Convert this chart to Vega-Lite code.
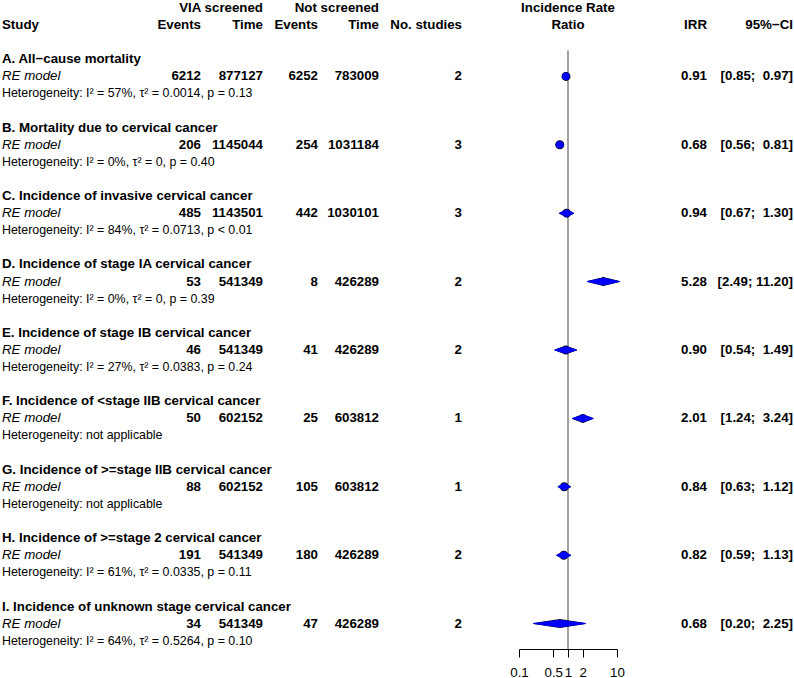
{
  "$schema": "https://vega.github.io/schema/vega-lite/v6.json",
  "background": "white",
  "padding": {"left": 2, "right": 0, "top": 0, "bottom": 0},
  "datasets": {
    "headers": [
      {"col": "study", "line": -2, "text": "Study"},
      {"col": "ev1", "line": -2, "text": "Events"},
      {"col": "t1", "line": -3, "text": "VIA screened"},
      {"col": "t1", "line": -2, "text": "Time"},
      {"col": "ev2", "line": -2, "text": "Events"},
      {"col": "t2", "line": -3, "text": "Not screened"},
      {"col": "t2", "line": -2, "text": "Time"},
      {"col": "k", "line": -2, "text": "No. studies"},
      {"col": "plot", "line": -3, "text": "Incidence Rate"},
      {"col": "plot", "line": -2, "text": "Ratio"},
      {"col": "irr", "line": -2, "text": "IRR"},
      {"col": "ci", "line": -2, "text": "95%−CI"}
    ],
    "lines": [
      {"sec": "A", "kind": "title", "line": 0, "text": "A. All−cause mortality"},
      {"sec": "A", "kind": "model", "line": 1, "text": "RE model", "ev1": 6212, "t1": 877127, "ev2": 6252, "t2": 783009, "k": 2, "irr": 0.91, "lo": 0.85, "hi": 0.97, "ci": "[0.85;\u00a0 0.97]"},
      {"sec": "A", "kind": "het", "line": 2, "text": "Heterogeneity: I² = 57%, τ² = 0.0014, p = 0.13"},
      {"sec": "B", "kind": "title", "line": 4, "text": "B. Mortality due to cervical cancer"},
      {"sec": "B", "kind": "model", "line": 5, "text": "RE model", "ev1": 206, "t1": 1145044, "ev2": 254, "t2": 1031184, "k": 3, "irr": 0.68, "lo": 0.56, "hi": 0.81, "ci": "[0.56;\u00a0 0.81]"},
      {"sec": "B", "kind": "het", "line": 6, "text": "Heterogeneity: I² = 0%, τ² = 0, p = 0.40"},
      {"sec": "C", "kind": "title", "line": 8, "text": "C. Incidence of invasive cervical cancer"},
      {"sec": "C", "kind": "model", "line": 9, "text": "RE model", "ev1": 485, "t1": 1143501, "ev2": 442, "t2": 1030101, "k": 3, "irr": 0.94, "lo": 0.67, "hi": 1.30, "ci": "[0.67;\u00a0 1.30]"},
      {"sec": "C", "kind": "het", "line": 10, "text": "Heterogeneity: I² = 84%, τ² = 0.0713, p < 0.01"},
      {"sec": "D", "kind": "title", "line": 12, "text": "D. Incidence of stage IA cervical cancer"},
      {"sec": "D", "kind": "model", "line": 13, "text": "RE model", "ev1": 53, "t1": 541349, "ev2": 8, "t2": 426289, "k": 2, "irr": 5.28, "lo": 2.49, "hi": 11.20, "ci": "[2.49; 11.20]"},
      {"sec": "D", "kind": "het", "line": 14, "text": "Heterogeneity: I² = 0%, τ² = 0, p = 0.39"},
      {"sec": "E", "kind": "title", "line": 16, "text": "E. Incidence of stage IB cervical cancer"},
      {"sec": "E", "kind": "model", "line": 17, "text": "RE model", "ev1": 46, "t1": 541349, "ev2": 41, "t2": 426289, "k": 2, "irr": 0.90, "lo": 0.54, "hi": 1.49, "ci": "[0.54;\u00a0 1.49]"},
      {"sec": "E", "kind": "het", "line": 18, "text": "Heterogeneity: I² = 27%, τ² = 0.0383, p = 0.24"},
      {"sec": "F", "kind": "title", "line": 20, "text": "F. Incidence of <stage IIB cervical cancer"},
      {"sec": "F", "kind": "model", "line": 21, "text": "RE model", "ev1": 50, "t1": 602152, "ev2": 25, "t2": 603812, "k": 1, "irr": 2.01, "lo": 1.24, "hi": 3.24, "ci": "[1.24;\u00a0 3.24]"},
      {"sec": "F", "kind": "het", "line": 22, "text": "Heterogeneity: not applicable"},
      {"sec": "G", "kind": "title", "line": 24, "text": "G. Incidence of >=stage IIB cervical cancer"},
      {"sec": "G", "kind": "model", "line": 25, "text": "RE model", "ev1": 88, "t1": 602152, "ev2": 105, "t2": 603812, "k": 1, "irr": 0.84, "lo": 0.63, "hi": 1.12, "ci": "[0.63;\u00a0 1.12]"},
      {"sec": "G", "kind": "het", "line": 26, "text": "Heterogeneity: not applicable"},
      {"sec": "H", "kind": "title", "line": 28, "text": "H. Incidence of >=stage 2 cervical cancer"},
      {"sec": "H", "kind": "model", "line": 29, "text": "RE model", "ev1": 191, "t1": 541349, "ev2": 180, "t2": 426289, "k": 2, "irr": 0.82, "lo": 0.59, "hi": 1.13, "ci": "[0.59;\u00a0 1.13]"},
      {"sec": "H", "kind": "het", "line": 30, "text": "Heterogeneity: I² = 61%, τ² = 0.0335, p = 0.11"},
      {"sec": "I", "kind": "title", "line": 32, "text": "I. Incidence of unknown stage cervical cancer"},
      {"sec": "I", "kind": "model", "line": 33, "text": "RE model", "ev1": 34, "t1": 541349, "ev2": 47, "t2": 426289, "k": 2, "irr": 0.68, "lo": 0.20, "hi": 2.25, "ci": "[0.20;\u00a0 2.25]"},
      {"sec": "I", "kind": "het", "line": 34, "text": "Heterogeneity: I² = 64%, τ² = 0.5264, p = 0.10"}
    ]
  },
  "spacing": 0,
  "bounds": "flush",
  "hconcat": [
    {
      "width": 199, "height": 647,
      "layer": [
        {"data": {"name": "headers"}, "transform": [{"filter": "datum.col == 'study'"}],
         "mark": {"type": "text", "align": "left", "fontWeight": "bold", "clip": false},
         "encoding": {"x": {"datum": 0, "type": "quantitative", "scale": {"domain": [0, 1]}, "axis": null},
                      "y": {"field": "line", "type": "quantitative", "scale": {"domain": [-3.35, 34.485], "reverse": true, "zero": false, "nice": false}, "axis": null},
                      "text": {"field": "text"}}},
        {"data": {"name": "lines"}, "transform": [{"filter": "datum.kind == 'title'"}],
         "mark": {"type": "text", "align": "left", "fontWeight": "bold", "clip": false},
         "encoding": {"x": {"datum": 0, "type": "quantitative", "scale": {"domain": [0, 1]}, "axis": null},
                      "y": {"field": "line", "type": "quantitative", "scale": {"domain": [-3.35, 34.485], "reverse": true, "zero": false, "nice": false}, "axis": null},
                      "text": {"field": "text"}}},
        {"data": {"name": "lines"}, "transform": [{"filter": "datum.kind == 'model'"}],
         "mark": {"type": "text", "align": "left", "fontStyle": "italic", "clip": false},
         "encoding": {"x": {"datum": 0, "type": "quantitative", "scale": {"domain": [0, 1]}, "axis": null},
                      "y": {"field": "line", "type": "quantitative", "scale": {"domain": [-3.35, 34.485], "reverse": true, "zero": false, "nice": false}, "axis": null},
                      "text": {"field": "text"}}},
        {"data": {"name": "lines"}, "transform": [{"filter": "datum.kind == 'het'"}],
         "mark": {"type": "text", "align": "left", "fontSize": 12.4, "clip": false},
         "encoding": {"x": {"datum": 0, "type": "quantitative", "scale": {"domain": [0, 1]}, "axis": null},
                      "y": {"field": "line", "type": "quantitative", "scale": {"domain": [-3.35, 34.485], "reverse": true, "zero": false, "nice": false}, "axis": null},
                      "text": {"field": "text"}}},
        {"data": {"name": "headers"}, "transform": [{"filter": "datum.col == 'ev1'"}],
         "mark": {"type": "text", "align": "right", "fontWeight": "bold", "clip": false},
         "encoding": {"x": {"datum": 1, "type": "quantitative", "scale": {"domain": [0, 1]}, "axis": null},
                      "y": {"field": "line", "type": "quantitative", "scale": {"domain": [-3.35, 34.485], "reverse": true, "zero": false, "nice": false}, "axis": null},
                      "text": {"field": "text"}}},
        {"data": {"name": "lines"}, "transform": [{"filter": "datum.kind == 'model'"}],
         "mark": {"type": "text", "align": "right", "fontWeight": "bold", "clip": false},
         "encoding": {"x": {"datum": 1, "type": "quantitative", "scale": {"domain": [0, 1]}, "axis": null},
                      "y": {"field": "line", "type": "quantitative", "scale": {"domain": [-3.35, 34.485], "reverse": true, "zero": false, "nice": false}, "axis": null},
                      "text": {"field": "ev1", "type": "quantitative", "format": "d"}}}
      ]
    },
    {
      "width": 62, "height": 647,
      "layer": [
        {"data": {"name": "headers"}, "transform": [{"filter": "datum.col == 't1'"}],
         "mark": {"type": "text", "align": "right", "fontWeight": "bold", "clip": false},
         "encoding": {"x": {"datum": 1, "type": "quantitative", "scale": {"domain": [0, 1]}, "axis": null},
                      "y": {"field": "line", "type": "quantitative", "scale": {"domain": [-3.35, 34.485], "reverse": true, "zero": false, "nice": false}, "axis": null},
                      "text": {"field": "text"}}},
        {"data": {"name": "lines"}, "transform": [{"filter": "datum.kind == 'model'"}],
         "mark": {"type": "text", "align": "right", "fontWeight": "bold", "clip": false},
         "encoding": {"x": {"datum": 1, "type": "quantitative", "scale": {"domain": [0, 1]}, "axis": null},
                      "y": {"field": "line", "type": "quantitative", "scale": {"domain": [-3.35, 34.485], "reverse": true, "zero": false, "nice": false}, "axis": null},
                      "text": {"field": "t1", "type": "quantitative", "format": "d"}}}
      ]
    },
    {
      "width": 55, "height": 647,
      "layer": [
        {"data": {"name": "headers"}, "transform": [{"filter": "datum.col == 'ev2'"}],
         "mark": {"type": "text", "align": "right", "fontWeight": "bold", "clip": false},
         "encoding": {"x": {"datum": 1, "type": "quantitative", "scale": {"domain": [0, 1]}, "axis": null},
                      "y": {"field": "line", "type": "quantitative", "scale": {"domain": [-3.35, 34.485], "reverse": true, "zero": false, "nice": false}, "axis": null},
                      "text": {"field": "text"}}},
        {"data": {"name": "lines"}, "transform": [{"filter": "datum.kind == 'model'"}],
         "mark": {"type": "text", "align": "right", "fontWeight": "bold", "clip": false},
         "encoding": {"x": {"datum": 1, "type": "quantitative", "scale": {"domain": [0, 1]}, "axis": null},
                      "y": {"field": "line", "type": "quantitative", "scale": {"domain": [-3.35, 34.485], "reverse": true, "zero": false, "nice": false}, "axis": null},
                      "text": {"field": "ev2", "type": "quantitative", "format": "d"}}}
      ]
    },
    {
      "width": 61, "height": 647,
      "layer": [
        {"data": {"name": "headers"}, "transform": [{"filter": "datum.col == 't2'"}],
         "mark": {"type": "text", "align": "right", "fontWeight": "bold", "clip": false},
         "encoding": {"x": {"datum": 1, "type": "quantitative", "scale": {"domain": [0, 1]}, "axis": null},
                      "y": {"field": "line", "type": "quantitative", "scale": {"domain": [-3.35, 34.485], "reverse": true, "zero": false, "nice": false}, "axis": null},
                      "text": {"field": "text"}}},
        {"data": {"name": "lines"}, "transform": [{"filter": "datum.kind == 'model'"}],
         "mark": {"type": "text", "align": "right", "fontWeight": "bold", "clip": false},
         "encoding": {"x": {"datum": 1, "type": "quantitative", "scale": {"domain": [0, 1]}, "axis": null},
                      "y": {"field": "line", "type": "quantitative", "scale": {"domain": [-3.35, 34.485], "reverse": true, "zero": false, "nice": false}, "axis": null},
                      "text": {"field": "t2", "type": "quantitative", "format": "d"}}}
      ]
    },
    {
      "width": 83, "height": 647,
      "layer": [
        {"data": {"name": "headers"}, "transform": [{"filter": "datum.col == 'k'"}],
         "mark": {"type": "text", "align": "right", "fontWeight": "bold", "clip": false},
         "encoding": {"x": {"datum": 1, "type": "quantitative", "scale": {"domain": [0, 1]}, "axis": null},
                      "y": {"field": "line", "type": "quantitative", "scale": {"domain": [-3.35, 34.485], "reverse": true, "zero": false, "nice": false}, "axis": null},
                      "text": {"field": "text"}}},
        {"data": {"name": "lines"}, "transform": [{"filter": "datum.kind == 'model'"}],
         "mark": {"type": "text", "align": "right", "fontWeight": "bold", "clip": false},
         "encoding": {"x": {"datum": 1, "type": "quantitative", "scale": {"domain": [0, 1]}, "axis": null},
                      "y": {"field": "line", "type": "quantitative", "scale": {"domain": [-3.35, 34.485], "reverse": true, "zero": false, "nice": false}, "axis": null},
                      "text": {"field": "k", "type": "quantitative", "format": "d"}}}
      ]
    },
    {
      "width": 57, "height": 647,
      "data": {"name": "headers"},
      "transform": [{"filter": "false"}],
      "mark": {"type": "text", "clip": false},
      "encoding": {"text": {"field": "text"}}
    },
    {
      "width": 98, "height": 647,
      "layer": [
        {"data": {"values": [{"ref": 1}]},
         "mark": {"type": "rule", "color": "#666666", "strokeWidth": 1.2, "clip": false},
         "encoding": {"x": {"field": "ref", "type": "quantitative", "scale": {"type": "log", "domain": [0.1, 10], "nice": false},
                            "axis": {"title": null, "values": [0.1, 0.5, 1, 2, 10], "format": "~g", "grid": false, "labelOverlap": false, "labelFlush": false, "labelBound": false, "tickSize": 8, "labelPadding": 8, "domainColor": "black", "tickColor": "black", "labelColor": "black", "labelFont": "Liberation Sans", "labelFontSize": 13.3}},
                      "y": {"datum": -0.53, "type": "quantitative", "scale": {"domain": [-3.35, 34.485], "reverse": true, "zero": false, "nice": false}, "axis": null},
                      "y2": {"datum": 34.485}}},
        {"data": {"name": "lines"}, "transform": [{"filter": "datum.kind == 'model'"}, {"fold": ["lo", "irr", "hi"], "as": ["vertex", "v"]}],
         "mark": {"type": "trail", "color": "black", "clip": false},
         "encoding": {"x": {"field": "v", "type": "quantitative", "scale": {"type": "log", "domain": [0.1, 10], "nice": false},
                            "axis": {"title": null, "values": [0.1, 0.5, 1, 2, 10], "format": "~g", "grid": false, "labelOverlap": false, "labelFlush": false, "labelBound": false, "tickSize": 8, "labelPadding": 8, "domainColor": "black", "tickColor": "black", "labelColor": "black", "labelFont": "Liberation Sans", "labelFontSize": 13.3}},
                      "y": {"field": "line", "type": "quantitative", "scale": {"domain": [-3.35, 34.485], "reverse": true, "zero": false, "nice": false}, "axis": null},
                      "detail": {"field": "sec"},
                      "order": {"field": "v", "type": "quantitative"},
                      "size": {"condition": {"test": "datum.vertex == 'irr'", "value": 9}, "value": 1}}},
        {"data": {"name": "lines"}, "transform": [{"filter": "datum.kind == 'model'"}, {"fold": ["lo", "irr", "hi"], "as": ["vertex", "v"]}],
         "mark": {"type": "trail", "color": "#0000FF", "clip": false},
         "encoding": {"x": {"field": "v", "type": "quantitative", "scale": {"type": "log", "domain": [0.1, 10], "nice": false},
                            "axis": {"title": null, "values": [0.1, 0.5, 1, 2, 10], "format": "~g", "grid": false, "labelOverlap": false, "labelFlush": false, "labelBound": false, "tickSize": 8, "labelPadding": 8, "domainColor": "black", "tickColor": "black", "labelColor": "black", "labelFont": "Liberation Sans", "labelFontSize": 13.3}},
                      "y": {"field": "line", "type": "quantitative", "scale": {"domain": [-3.35, 34.485], "reverse": true, "zero": false, "nice": false}, "axis": null},
                      "detail": {"field": "sec"},
                      "order": {"field": "v", "type": "quantitative"},
                      "size": {"condition": {"test": "datum.vertex == 'irr'", "value": 7.6}, "value": 0}}},
        {"data": {"name": "headers"}, "transform": [{"filter": "datum.col == 'plot'"}],
         "mark": {"type": "text", "align": "center", "fontWeight": "bold", "clip": false},
         "encoding": {"x": {"datum": 1, "type": "quantitative", "scale": {"type": "log", "domain": [0.1, 10], "nice": false},
                            "axis": {"title": null, "values": [0.1, 0.5, 1, 2, 10], "format": "~g", "grid": false, "labelOverlap": false, "labelFlush": false, "labelBound": false, "tickSize": 8, "labelPadding": 8, "domainColor": "black", "tickColor": "black", "labelColor": "black", "labelFont": "Liberation Sans", "labelFontSize": 13.3}},
                      "y": {"field": "line", "type": "quantitative", "scale": {"domain": [-3.35, 34.485], "reverse": true, "zero": false, "nice": false}, "axis": null},
                      "text": {"field": "text"}}}
      ]
    },
    {
      "width": 90, "height": 647,
      "layer": [
        {"data": {"name": "headers"}, "transform": [{"filter": "datum.col == 'irr'"}],
         "mark": {"type": "text", "align": "right", "fontWeight": "bold", "clip": false},
         "encoding": {"x": {"datum": 1, "type": "quantitative", "scale": {"domain": [0, 1]}, "axis": null},
                      "y": {"field": "line", "type": "quantitative", "scale": {"domain": [-3.35, 34.485], "reverse": true, "zero": false, "nice": false}, "axis": null},
                      "text": {"field": "text"}}},
        {"data": {"name": "lines"}, "transform": [{"filter": "datum.kind == 'model'"}],
         "mark": {"type": "text", "align": "right", "fontWeight": "bold", "clip": false},
         "encoding": {"x": {"datum": 1, "type": "quantitative", "scale": {"domain": [0, 1]}, "axis": null},
                      "y": {"field": "line", "type": "quantitative", "scale": {"domain": [-3.35, 34.485], "reverse": true, "zero": false, "nice": false}, "axis": null},
                      "text": {"field": "irr", "type": "quantitative", "format": ".2f"}}}
      ]
    },
    {
      "width": 86, "height": 647,
      "layer": [
        {"data": {"name": "headers"}, "transform": [{"filter": "datum.col == 'ci'"}],
         "mark": {"type": "text", "align": "right", "fontWeight": "bold", "clip": false},
         "encoding": {"x": {"datum": 1, "type": "quantitative", "scale": {"domain": [0, 1]}, "axis": null},
                      "y": {"field": "line", "type": "quantitative", "scale": {"domain": [-3.35, 34.485], "reverse": true, "zero": false, "nice": false}, "axis": null},
                      "text": {"field": "text"}}},
        {"data": {"name": "lines"}, "transform": [{"filter": "datum.kind == 'model'"}],
         "mark": {"type": "text", "align": "right", "fontWeight": "bold", "clip": false},
         "encoding": {"x": {"datum": 1, "type": "quantitative", "scale": {"domain": [0, 1]}, "axis": null},
                      "y": {"field": "line", "type": "quantitative", "scale": {"domain": [-3.35, 34.485], "reverse": true, "zero": false, "nice": false}, "axis": null},
                      "text": {"field": "ci"}}}
      ]
    }
  ],
  "config": {
    "view": {"stroke": null},
    "text": {"font": "Liberation Sans", "fontSize": 13.3, "baseline": "middle", "color": "black"}
  }
}
